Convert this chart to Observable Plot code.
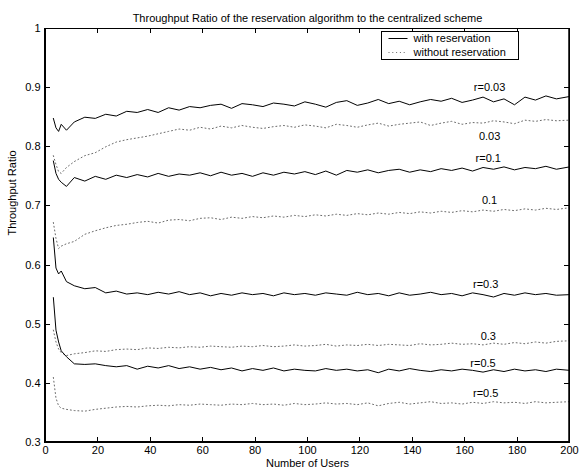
<!DOCTYPE html>
<html><head><meta charset="utf-8">
<script src="https://cdn.jsdelivr.net/npm/d3@7"></script>
<script src="https://cdn.jsdelivr.net/npm/@observablehq/plot@0.6"></script>
<style>
body{margin:0;background:#fff}
svg{font-family:"Liberation Sans",Arial,Helvetica,sans-serif}
</style>
</head><body><div id="chart"></div>
<script>
const users = [3,4,5,6,8,11,15,19,23,27,31,35,39,43,47,51,55,59,63,67,71,75,79,83,87,91,95,99,103,107,111,115,119,123,127,131,135,139,143,147,151,155,159,163,167,171,175,179,183,187,191,195,200];

const withR003 = [.848,.832,.826,.838,.828,.842,.850,.848,.855,.852,.860,.858,.863,.858,.866,.862,.868,.866,.870,.872,.865,.873,.871,.868,.874,.872,.869,.876,.872,.867,.875,.878,.870,.874,.880,.873,.877,.871,.876,.880,.877,.882,.875,.879,.884,.876,.881,.871,.884,.879,.886,.881,.885];
const withoutR003 = [.785,.770,.758,.755,.765,.775,.785,.790,.800,.808,.812,.815,.818,.822,.826,.830,.828,.833,.830,.835,.832,.836,.833,.831,.834,.836,.833,.837,.835,.832,.838,.836,.833,.837,.840,.835,.838,.840,.842,.836,.840,.843,.838,.841,.840,.844,.842,.839,.845,.843,.846,.844,.845];
const withR01 = [.776,.755,.745,.740,.733,.748,.742,.750,.745,.752,.748,.753,.749,.755,.750,.754,.752,.756,.751,.757,.752,.755,.750,.756,.752,.757,.754,.758,.753,.759,.752,.760,.757,.761,.756,.760,.762,.757,.761,.758,.763,.760,.764,.759,.765,.762,.766,.761,.765,.763,.767,.762,.766];
const withoutR01 = [.672,.645,.628,.632,.636,.640,.652,.658,.663,.667,.669,.672,.674,.671,.676,.677,.675,.679,.680,.677,.681,.679,.682,.680,.683,.681,.684,.682,.685,.683,.686,.684,.687,.685,.688,.686,.689,.687,.690,.688,.691,.689,.692,.690,.693,.691,.694,.692,.695,.693,.696,.694,.697];
const withR03 = [.646,.595,.585,.590,.572,.565,.560,.562,.553,.556,.551,.553,.550,.554,.551,.555,.550,.553,.548,.552,.549,.553,.550,.552,.548,.553,.550,.552,.549,.553,.551,.549,.554,.550,.552,.548,.553,.549,.551,.554,.550,.552,.548,.553,.550,.546,.552,.549,.553,.550,.552,.549,.550];
const withoutR03 = [.490,.470,.458,.452,.447,.450,.452,.455,.454,.457,.458,.457,.460,.459,.461,.460,.462,.461,.463,.462,.461,.463,.462,.464,.462,.463,.465,.463,.464,.466,.463,.465,.464,.466,.464,.466,.465,.464,.467,.465,.466,.468,.466,.467,.465,.468,.466,.469,.467,.470,.468,.471,.472];
const withR05 = [.545,.490,.470,.455,.445,.433,.432,.433,.430,.428,.430,.424,.429,.426,.430,.425,.428,.424,.427,.423,.426,.421,.425,.422,.426,.421,.424,.422,.421,.425,.422,.424,.421,.423,.418,.424,.421,.425,.422,.420,.423,.421,.424,.422,.419,.423,.420,.424,.421,.423,.420,.424,.422];
const withoutR05 = [.410,.375,.362,.358,.356,.354,.353,.356,.358,.360,.361,.360,.362,.363,.362,.364,.363,.365,.364,.363,.365,.364,.366,.364,.365,.363,.366,.364,.365,.367,.365,.366,.364,.367,.362,.366,.368,.365,.367,.369,.366,.367,.365,.368,.366,.369,.367,.368,.366,.369,.367,.368,.369];

const xTicks = [0,20,40,60,80,100,120,140,160,180,200];
const yTicks = [0.3,0.4,0.5,0.6,0.7,0.8,0.9,1];

const labelText = ["r=0.03","0.03","r=0.1","0.1","r=0.3","0.3","r=0.5","r=0.5"];
const labelX = [169.5,169.5,169,169.5,168,169,167,168];
const labelY = [0.900,0.818,0.780,0.709,0.568,0.480,0.433,0.383];

const titleText = "Throughput Ratio of the reservation algorithm to the centralized scheme";
const xLabel = "Number of Users";
const yLabel = "Throughput Ratio";
const legendText = ["with reservation","without reservation"];

const withSeries = [withR003, withR01, withR03, withR05];
const withoutSeries = [withoutR003, withoutR01, withoutR03, withoutR05];
const toRows = (arr) => arr.flatMap((vals, s) => vals.map((v, i) => ({s, x: users[i], y: v})));
const withRows = toRows(withSeries);
const withoutRows = toRows(withoutSeries);
const labels = labelText.map((t, i) => ({t, x: labelX[i], y: labelY[i]}));

const W = 585, H = 473;
const mL = 45, mR = 16, mT = 28, mB = 31;
const tk = 5;
const dotColor = "#6a6a6a";

const chart = Plot.plot({
  width: W, height: H,
  marginLeft: mL, marginRight: mR, marginTop: mT, marginBottom: mB,
  style: {fontFamily: '"Liberation Sans",Arial,Helvetica,sans-serif', fontSize: "11px", background: "#fff"},
  x: {domain: [0, 200]},
  y: {domain: [0.3, 1]},
  marks: [
    Plot.line(withoutRows, {x: "x", y: "y", z: "s", stroke: dotColor, strokeWidth: 1, strokeDasharray: "1,2.8"}),
    Plot.line(withRows, {x: "x", y: "y", z: "s", stroke: "#000", strokeWidth: 1}),
    Plot.text(labels, {x: "x", y: "y", text: "t", fontSize: 11, fill: "#000"}),
    Plot.axisX(xTicks, {anchor: "bottom", tickSize: 0, tickPadding: 4, fontSize: 11, label: null}),
    Plot.axisY(yTicks, {anchor: "left", tickSize: 0, tickPadding: 5, fontSize: 11, label: null,
      tickFormat: d => d === 1 ? "1" : d.toFixed(1)}),
    Plot.frame({stroke: "#000", strokeWidth: 1}),
    Plot.text([titleText], {text: d => d, frameAnchor: "top", dy: -14, fontSize: 11}),
    Plot.text([xLabel], {text: d => d, frameAnchor: "bottom", dy: 24, fontSize: 11}),
    Plot.text([yLabel], {text: d => d, frameAnchor: "left", dx: -33, rotate: -90, fontSize: 11})
  ]
});
document.getElementById("chart").appendChild(chart);

const svg = d3.select(chart);
const sx = chart.scale("x"), sy = chart.scale("y");
const xl = sx.apply(0), xr = sx.apply(200), yb = sy.apply(0.3), yt = sy.apply(1);

// heavier bottom and left axis lines (as in the original print)
const ag = svg.append("g").attr("stroke", "#000");
ag.append("line").attr("x1", xl - 1).attr("x2", xr).attr("y1", yb).attr("y2", yb).attr("stroke-width", 2);
ag.append("line").attr("x1", xl).attr("x2", xl).attr("y1", yt).attr("y2", yb + 1).attr("stroke-width", 2);
ag.append("line").attr("x1", xr).attr("x2", xr).attr("y1", yt).attr("y2", yb).attr("stroke-width", 1.5);

// inward ticks on all four sides (positions from Plot's scales)
const tg = svg.append("g").attr("stroke", "#000").attr("stroke-width", 1);
xTicks.forEach(v => {
  const px = Math.round(sx.apply(v)) + 0.5;
  tg.append("line").attr("x1", px).attr("x2", px).attr("y1", yb).attr("y2", yb - tk);
  tg.append("line").attr("x1", px).attr("x2", px).attr("y1", yt).attr("y2", yt + tk);
});
yTicks.forEach(v => {
  const py = Math.round(sy.apply(v)) + 0.5;
  tg.append("line").attr("x1", xl).attr("x2", xl + tk).attr("y1", py).attr("y2", py);
  tg.append("line").attr("x1", xr).attr("x2", xr - tk).attr("y1", py).attr("y2", py);
});

// legend box
const lg = svg.append("g").attr("transform", "translate(381.5,31.5)");
lg.append("rect").attr("width", 137).attr("height", 28).attr("fill", "#fff").attr("stroke", "#000").attr("stroke-width", 1);
lg.append("line").attr("x1", 7).attr("x2", 26).attr("y1", 7).attr("y2", 7).attr("stroke", "#000").attr("stroke-width", 1);
lg.append("line").attr("x1", 7).attr("x2", 26).attr("y1", 21).attr("y2", 21).attr("stroke", dotColor).attr("stroke-width", 1).attr("stroke-dasharray", "1,2.8");
legendText.forEach((t, i) => {
  lg.append("text").attr("x", 32).attr("y", 7 + 14 * i).attr("dy", "0.35em")
    .attr("text-anchor", "start").attr("font-size", 11).attr("fill", "#000").text(t);
});
</script>
</body></html>
